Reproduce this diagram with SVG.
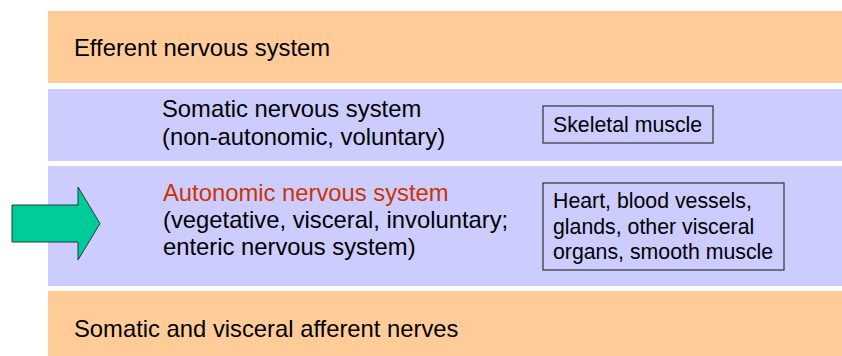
<svg xmlns="http://www.w3.org/2000/svg" width="842" height="356" viewBox="0 0 842 356">
<style>
.orange{fill:#FFCC99}
.lav{fill:#CCCCFF}
.t{font-family:"Liberation Sans",Arial,sans-serif;font-size:23.8px;fill:#000}
.red{fill:#CC3300}
.box{fill:#CCCCFF;stroke:#333333;stroke-width:1.2}
.bt{font-family:"Liberation Sans",Arial,sans-serif;font-size:21.3px;fill:#000}
</style>
<rect width="842" height="356" fill="#FFFFFF"/>
<g id="efferent">
<rect class="orange" x="48" y="11" width="794" height="72"/>
<text class="t" x="74" y="56">Efferent nervous system</text>
</g>
<g id="somatic">
<rect class="lav" x="48" y="89" width="794" height="72"/>
<text class="t" x="162" y="117">Somatic nervous system</text>
<text class="t" x="162" y="145">(non-autonomic, voluntary)</text>
</g>
<g id="skeletal">
<rect class="box" x="543" y="106" width="170" height="37"/>
<text class="bt" x="553" y="132">Skeletal muscle</text>
</g>
<g id="autonomic">
<rect class="lav" x="48" y="166" width="794" height="120"/>
<text class="t red" x="163" y="201">Autonomic nervous system</text>
<text class="t" x="163" y="228">(vegetative, visceral, involuntary;</text>
<text class="t" x="163" y="255">enteric nervous system)</text>
</g>
<g id="organs">
<rect class="box" x="543" y="183" width="241" height="87"/>
<text class="bt" x="553" y="208">Heart, blood vessels,</text>
<text class="bt" x="553" y="234">glands, other visceral</text>
<text class="bt" x="553" y="259">organs, smooth muscle</text>
</g>
<g id="afferent">
<rect class="orange" x="48" y="291" width="794" height="65"/>
<text class="t" x="74" y="337">Somatic and visceral afferent nerves</text>
</g>
<g id="connectors">
<polygon points="12,205 78,205 78,187 100,223.5 78,260 78,242 12,242" fill="#00CC99" stroke="#1F3F36" stroke-width="1"/>
</g>
</svg>
